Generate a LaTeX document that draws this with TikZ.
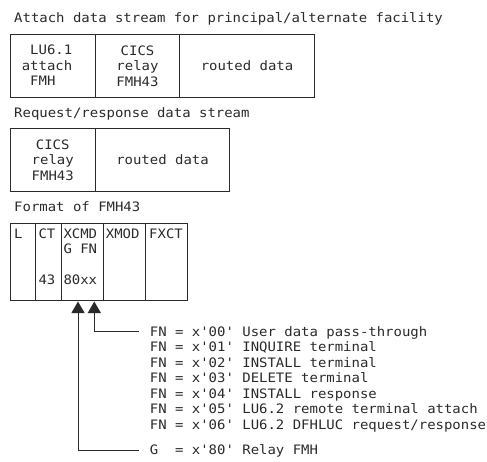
\documentclass[tikz,border=0pt]{standalone}
\usepackage{fontspec}
\setmonofont{DejaVu Sans Mono}[FakeStretch=1.074]
\usetikzlibrary{arrows.meta}
\definecolor{ink}{HTML}{2A2A2A}
\begin{document}
\begin{tikzpicture}[x=1pt,y=-1pt,
  every node/.style={font=\ttfamily\fontsize{13}{15.5}\selectfont, text=ink, inner sep=0pt},
  cell/.style={draw=ink, line width=1pt, anchor=north west, align=center},
  lbl/.style={anchor=west, text height=9.4pt, text depth=0pt},
  arr/.style={draw=ink, line width=1pt, -{Triangle[length=11.5pt,width=13pt]}}]
\useasboundingbox (0,0) rectangle (487,462);

% titles
\node[lbl] (t1) at (14,18) {Attach data stream for principal/alternate facility};
\node[lbl] (t2) at (14,113) {Request/response data stream};
\node[lbl] (t3) at (14,207) {Format of FMH43};

% box 1
\node[cell, minimum width=85.5pt, minimum height=63pt] (a1) at (9.5,34) {};
\node[cell, minimum width=84pt, minimum height=63pt] (a2) at (95,34) {CICS\\relay\\FMH43};
\node[cell, minimum width=135pt, minimum height=63pt] (a3) at (179,34) {routed data};
\node[anchor=west, align=left] (a1t) at (21.6,65.5) {\phantom{L}LU6.1\\attach\\\phantom{F}FMH};

% box 2
\node[cell, minimum width=85.5pt, minimum height=63pt] (b1) at (9.5,128) {CICS\\relay\\FMH43};
\node[cell, minimum width=134pt, minimum height=63pt] (b2) at (95,128) {routed data};

% box 3
\node[cell, minimum width=25.5pt, minimum height=77.3pt] (c1) at (9.5,222.7) {};
\node[cell, minimum width=25.7pt, minimum height=77.3pt] (c2) at (35,222.7) {};
\node[cell, minimum width=42pt, minimum height=77.3pt] (c3) at (60.7,222.7) {};
\node[cell, minimum width=42.3pt, minimum height=77.3pt] (c4) at (102.7,222.7) {};
\node[cell, minimum width=42.3pt, minimum height=77.3pt] (c5) at (145,222.7) {};

\node[lbl] (l1) at (14,233.5) {L};
\node[lbl] (l2) at (38.3,233.5) {CT};
\node[lbl] (l3) at (38.3,280) {43};
\node[lbl] (l4) at (63.3,233.5) {XCMD};
\node[lbl] (l5) at (63.3,249) {G FN};
\node[lbl] (l6) at (63.3,280) {80xx};
\node[lbl] (l7) at (105.7,233.5) {XMOD};
\node[lbl] (l8) at (149,233.5) {FXCT};

% value list
\node[lbl] (fn0) at (149.7,331.5) {FN = x'00' User data pass-through};
\node[lbl] (fn1) at (149.7,347) {FN = x'01' INQUIRE terminal};
\node[lbl] (fn2) at (149.7,362.5) {FN = x'02' INSTALL terminal};
\node[lbl] (fn3) at (149.7,378) {FN = x'03' DELETE terminal};
\node[lbl] (fn4) at (149.7,393.5) {FN = x'04' INSTALL response};
\node[lbl] (fn5) at (149.7,409) {FN = x'05' LU6.2 remote terminal attach};
\node[lbl] (fn6) at (149.7,424.5) {FN = x'06' LU6.2 DFHLUC request/response};
\node[lbl] (g) at (149.7,450) {G\ \ = x'80' Relay FMH};

% arrows
\coordinate (tg) at (78,301.5);
\coordinate (tf) at (94.3,301.5);
\draw[arr] ([xshift=-11pt]fn0.west) -| (tf);
\draw[arr] ([xshift=-11pt]g.west) -| (tg);
\end{tikzpicture}
\end{document}
